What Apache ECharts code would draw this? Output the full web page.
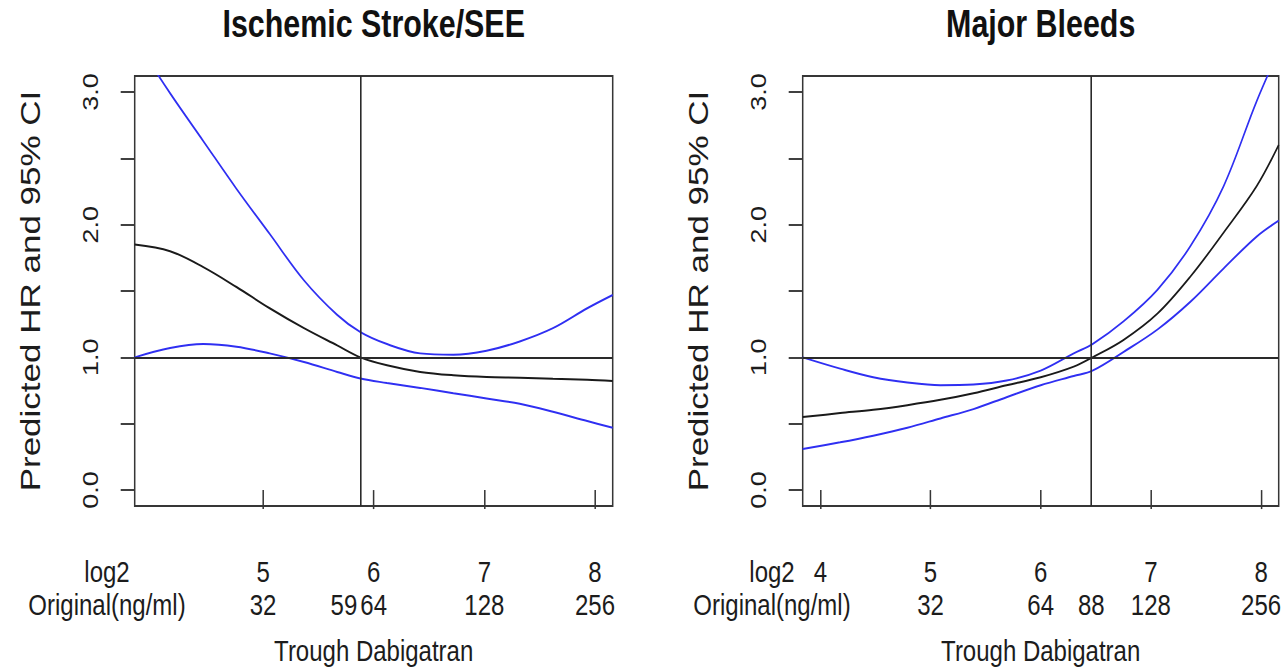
<!DOCTYPE html>
<html>
<head>
<meta charset="utf-8">
<script src="https://cdn.jsdelivr.net/npm/echarts@6.0.0/dist/echarts.min.js"></script>
<style>
html,body{margin:0;padding:0;background:#fff;overflow:hidden;}
#wrap{width:1285px;height:671px;overflow:hidden;}
#chart{width:1606px;height:671px;transform:scaleX(0.8);transform-origin:0 0;}
</style>
</head>
<body>
<div id="wrap"><div id="chart"></div></div>
<script>
// ---------- Data ----------
// Panel 1: Ischemic Stroke/SEE  (x = log2 trough dabigatran)
const xIS   = [3.84, 4.16, 4.46, 4.76, 5.06, 5.37, 5.67, 5.88, 6.12, 6.42, 6.72, 7.02, 7.32, 7.62, 7.93, 8.16];
const hrIS  = [1.85, 1.80, 1.68, 1.53, 1.37, 1.22, 1.09, 1.00, 0.94, 0.89, 0.865, 0.852, 0.847, 0.839, 0.832, 0.822];
const loIS  = [1.00, 1.07, 1.10, 1.08, 1.03, 0.965, 0.89, 0.84, 0.807, 0.77, 0.73, 0.69, 0.65, 0.59, 0.52, 0.47];
const hiIS  = [3.40, 2.99, 2.63, 2.27, 1.93, 1.58, 1.32, 1.19, 1.10, 1.03, 1.02, 1.05, 1.12, 1.22, 1.37, 1.47];

// Panel 2: Major Bleeds
const xMB   = [3.84, 4.18, 4.48, 4.79, 5.09, 5.39, 5.69, 6.00, 6.30, 6.47, 6.75, 7.06, 7.36, 7.66, 7.96, 8.16];
const hrMB  = [0.55, 0.58, 0.605, 0.64, 0.68, 0.73, 0.79, 0.85, 0.93, 1.00, 1.13, 1.33, 1.61, 1.94, 2.29, 2.60];
const loMB  = [0.31, 0.36, 0.41, 0.47, 0.54, 0.61, 0.70, 0.79, 0.86, 0.90, 1.04, 1.21, 1.42, 1.67, 1.91, 2.03];
const hiMB  = [1.00, 0.915, 0.85, 0.81, 0.79, 0.795, 0.825, 0.90, 1.03, 1.10, 1.27, 1.51, 1.84, 2.29, 2.93, 3.31];

// Axis ticks & labels
const titles      = ['Ischemic Stroke/SEE', 'Major Bleeds'];
const rowTitles   = 'log2\nOriginal(ng/ml)';
const xTitle      = 'Trough Dabigatran';
const yTitle      = 'Predicted HR and 95% CI';
const log2TicksIS = [5, 6, 7, 8];
const origLabIS   = ['32', '64', '128', '256'];
const log2TicksMB = [4, 5, 6, 7, 8];
const origLabMB   = ['', '32', '64', '128', '256'];
const refX        = [5.883, 6.459];     // log2(59), log2(88)
const refXLabel   = ['59', '88'];
const refY        = 1;
const yTicks      = [0, 0.5, 1, 1.5, 2, 2.5, 3];
const yLabels     = [0, 1, 2, 3];

// ---------- Layout / styling ----------
// The reference image is horizontally compressed (factor ~0.8); the chart is drawn
// on a wider canvas and compressed with CSS so text and lines get the same aspect.
const S = 0.8;
const X = px => px / S;   // reference pixel -> chart pixel (horizontal only)
const SANS = '"Liberation Sans", Arial, sans-serif';
const TXT = '#1c1c1c';
const AX = '#363636';
const BLUE = '#2f2ff2';
const BLACK = '#1a1a1a';

const grids = [
  {left: X(134.7), top: 76, width: X(478), height: 430},
  {left: X(802.7), top: 76, width: X(476), height: 430}
];
const rowTitleX = [X(107), X(772)];
const panelData = [
  {x: xIS, hr: hrIS, lo: loIS, hi: hiIS, ticks: log2TicksIS, orig: origLabIS, ref: refX[0], refLab: refXLabel[0], refPad: [0, 42, 0, 0]},
  {x: xMB, hr: hrMB, lo: loMB, hi: hiMB, ticks: log2TicksMB, orig: origLabMB, ref: refX[1], refLab: refXLabel[1], refPad: [0, 0, 0, 0]}
];

const option = {
  backgroundColor: '#fff',
  animation: false,
  title: titles.map((t, i) => ({
    text: t,
    left: grids[i].left + grids[i].width / 2,
    top: 4, padding: 0,
    textAlign: 'center',
    textStyle: {fontFamily: SANS, fontWeight: 'bold', fontSize: 38, color: '#111', lineHeight: 40}
  })).concat(rowTitleX.map(x => ({
    text: rowTitles,
    left: x, top: 555, padding: 0,
    textAlign: 'center',
    textStyle: {fontFamily: SANS, fontWeight: 'normal', fontSize: 30, color: TXT, lineHeight: 33}
  }))),
  grid: grids.map(g => Object.assign({
    show: true, borderColor: AX, borderWidth: 1.9, backgroundColor: 'transparent',
    containLabel: false, outerBoundsMode: 'none'
  }, g)),
  xAxis: [],
  yAxis: [],
  series: []
};

panelData.forEach((p, i) => {
  const labelVals = p.ticks.concat([p.ref]);
  option.xAxis.push({
    type: 'value', gridIndex: i, min: 3.84, max: 8.16, position: 'bottom',
    name: xTitle, nameLocation: 'middle', nameGap: 128,
    nameTextStyle: {fontFamily: SANS, fontSize: 30, color: TXT, lineHeight: 33},
    axisLine: {show: false},
    splitLine: {show: false},
    axisTick: {show: true, customValues: p.ticks, length: 19, inside: false, lineStyle: {color: AX, width: 1.9}},
    axisLabel: {
      show: true, customValues: labelVals, margin: 49,
      formatter: function (v) {
        if (Math.abs(v - p.ref) < 1e-6) return '{t| }\n{r|' + p.refLab + '}';
        const k = p.ticks.findIndex(t => Math.abs(t - v) < 1e-6);
        const top = String(p.ticks[k]);
        const bot = p.orig[k] === '' ? ' ' : p.orig[k];
        return '{t|' + top + '}\n{b|' + bot + '}';
      },
      rich: {
        t: {fontFamily: SANS, fontSize: 30, color: TXT, lineHeight: 33},
        b: {fontFamily: SANS, fontSize: 30, color: TXT, lineHeight: 33},
        r: {fontFamily: SANS, fontSize: 30, color: TXT, lineHeight: 33, padding: p.refPad}
      }
    }
  });
  option.yAxis.push({
    type: 'value', gridIndex: i, min: -0.12, max: 3.12,
    name: yTitle, nameLocation: 'middle', nameRotate: 90, nameGap: 113,
    nameTextStyle: {fontFamily: SANS, fontSize: 35, color: TXT},
    axisLine: {show: false},
    splitLine: {show: false},
    axisTick: {show: true, customValues: yTicks, length: X(14), inside: false, lineStyle: {color: AX, width: 1.9}},
    axisLabel: {
      show: true, customValues: yLabels, rotate: 90, margin: 42,
      fontFamily: SANS, fontSize: 27, color: TXT,
      formatter: v => Number(v).toFixed(1)
    }
  });
  const mk = (vals, color, extra) => Object.assign({
    type: 'line', xAxisIndex: i, yAxisIndex: i,
    data: p.x.map((x, j) => [x, vals[j]]),
    smooth: 0.35, showSymbol: false, clip: true, silent: true,
    lineStyle: {color: color, width: 2}
  }, extra || {});
  option.series.push(mk(p.hr, BLACK, {
    z: 3,
    markLine: {
      silent: true, symbol: 'none', animation: false,
      label: {show: false},
      lineStyle: {color: '#2a2a2a', width: 2, type: 'solid'},
      data: [{yAxis: refY}, {xAxis: p.ref}]
    }
  }));
  option.series.push(mk(p.lo, BLUE, {z: 4}));
  option.series.push(mk(p.hi, BLUE, {z: 4}));
});

const chart = echarts.init(document.getElementById('chart'), null, {renderer: 'svg'});
chart.setOption(option);
</script>
</body>
</html>
